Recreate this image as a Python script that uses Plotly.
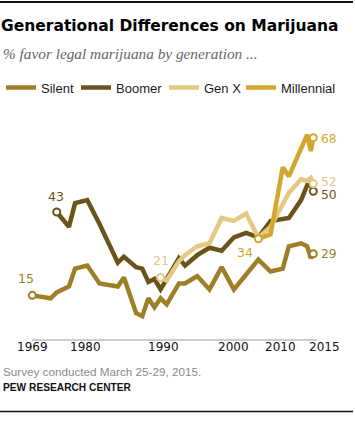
import plotly.graph_objects as go

# ---- data ----
series_names = ["Silent", "Boomer", "Gen X", "Millennial"]
series_colors = ["#9e7f28", "#6a5419", "#e3c982", "#d4a62f"]

silent_years = [1969, 1972, 1973, 1975, 1976, 1978, 1980, 1983, 1984, 1986, 1987, 1988,
                1989, 1990, 1991, 1993, 1994, 1996, 1998, 2000, 2002, 2006, 2008, 2010,
                2011, 2013, 2014, 2014.6, 2015]
silent_vals = [15, 14, 16, 18, 24, 25, 19, 18, 21, 9, 8, 14,
               11, 14, 12, 19, 19, 21.5, 17, 24.5, 17, 27, 23, 24,
               31.5, 32.5, 31.5, 27.5, 29]

boomer_years = [1973, 1975, 1976, 1978, 1980, 1983, 1984, 1986, 1987, 1988, 1989, 1990,
                1993, 1994, 1996, 1998, 2000, 2002, 2004, 2006, 2008, 2010, 2011,
                2013, 2014, 2014.6, 2015]
boomer_vals = [43, 38, 46, 47, 39, 26, 28, 24.5, 24, 19.5, 20.5, 17,
               27.5, 25, 28.5, 31, 30, 34.5, 36, 34.5, 40, 40.5, 41,
               47, 52, 52, 50]

genx_years = [1990, 1991, 1993, 1994, 1996, 1998, 2000, 2002, 2004, 2006, 2008, 2011,
              2013, 2014, 2014.6, 2015]
genx_vals = [21, 20, 26.5, 28.5, 31.5, 32.5, 41, 40, 42.5, 34.4, 38, 49.5,
             54, 53.5, 54.5, 52.5]

millennial_years = [2006, 2008, 2010, 2011, 2014, 2014.6, 2015]
millennial_vals = [34, 35.5, 58, 55, 69, 63.5, 68]

tick_labels = ["1969", "1980", "1990", "2000", "2010", "2015"]
tick_label_pos = [1969.1, 1977.7, 1990.4, 2001.9, 2009.7, 2016.9]

start_labels = ["15", "43", "21", "34"]
end_labels = ["29", "50", "52", "68"]

all_years = [silent_years, boomer_years, genx_years, millennial_years]
all_vals = [silent_vals, boomer_vals, genx_vals, millennial_vals]

# ---- layout geometry ----
W, H = 355, 433
L, R, T, B = 32, 2, 120, 93
plot_w = W - L - R
plot_h = H - T - B
AXIS_END_PX = 317
legend_left_px = [1, 76, 164, 241]

def px_x(px):
    return (px - L) / plot_w

def px_y(py):
    return (H - B - py) / plot_h

legend_ids = ["legend", "legend2", "legend3", "legend4"]

fig = go.Figure()

for name, col, xs, ys, lg in zip(series_names, series_colors, all_years, all_vals, legend_ids):
    fig.add_trace(go.Scatter(
        x=xs, y=ys, mode="lines", name=name, legend=lg,
        line=dict(color=col, width=4.5),
        cliponaxis=False, hoverinfo="skip",
    ))

# endpoint circles
for name, col, xs, ys in zip(series_names, series_colors, all_years, all_vals):
    fig.add_trace(go.Scatter(
        x=[xs[0], xs[-1]], y=[ys[0], ys[-1]], mode="markers", showlegend=False,
        marker=dict(symbol="circle", size=7, color="white", line=dict(color=col, width=2)),
        cliponaxis=False, hoverinfo="skip",
    ))

annotations = []
label_font = "DejaVu Sans"
# start labels
start_shift = [(-6, 17), (-1, 16), (0, 17), (-13, -14)]
for i, (txt, (dx, dy)) in enumerate(zip(start_labels, start_shift)):
    annotations.append(dict(
        x=all_years[i][0], y=all_vals[i][0], xref="x", yref="y", text=txt,
        showarrow=False, xanchor="center", yanchor="middle", xshift=dx, yshift=dy,
        font=dict(family=label_font, size=12.5, color=series_colors[i]),
    ))
# end labels
end_shift = [0, -4, 2, -1]
for i, (txt, dy) in enumerate(zip(end_labels, end_shift)):
    annotations.append(dict(
        x=all_years[i][-1], y=all_vals[i][-1], xref="x", yref="y", text=txt,
        showarrow=False, xanchor="left", yanchor="middle", xshift=6, yshift=dy,
        font=dict(family=label_font, size=12.3, color=series_colors[i]),
    ))
# x tick labels
for txt, pos in zip(tick_labels, tick_label_pos):
    annotations.append(dict(
        x=pos, y=0, xref="x", yref="paper", text=txt, showarrow=False,
        xanchor="center", yanchor="middle", yshift=-6.5,
        font=dict(family=label_font, size=12, color="#111111"),
    ))
# subtitle
annotations.append(dict(
    x=px_x(1), y=px_y(53), xref="paper", yref="paper", xanchor="left", yanchor="middle",
    text="<i>% favor legal marijuana by generation ...</i>", showarrow=False,
    font=dict(family="Liberation Serif", size=15.3, color="#666666"),
))
# footer
annotations.append(dict(
    x=px_x(1), y=px_y(371), xref="paper", yref="paper", xanchor="left", yanchor="middle",
    text="Survey conducted March 25-29, 2015.", showarrow=False,
    font=dict(family="Liberation Sans", size=11.7, color="#8a8a8a"),
))
annotations.append(dict(
    x=px_x(1), y=px_y(387.5), xref="paper", yref="paper", xanchor="left", yanchor="middle",
    text="<b>PEW RESEARCH CENTER</b>", showarrow=False,
    font=dict(family="Liberation Sans", size=10.2, color="#111111"),
))

shapes = [
    dict(type="line", xref="paper", yref="paper", x0=px_x(0), x1=px_x(353),
         y0=px_y(2), y1=px_y(2), line=dict(color="#111111", width=2)),
    dict(type="line", xref="paper", yref="paper", x0=px_x(0), x1=px_x(353),
         y0=px_y(411.5), y1=px_y(411.5), line=dict(color="#111111", width=1.5)),
    # x axis baseline
    dict(type="line", xref="paper", yref="paper", x0=0, x1=px_x(AXIS_END_PX),
         y0=0, y1=0, line=dict(color="#9a9a9a", width=1), layer="below"),
]

x0_year = 1969
px_per_year = (313.3 - 32.3) / (2015 - 1969)
x_start = x0_year - (32.3 - L) / px_per_year
x_end = x_start + plot_w / px_per_year
px_per_pct = 2.976

legend_layouts = {}
for lg, lpx in zip(legend_ids, legend_left_px):
    legend_layouts[lg] = dict(
        orientation="h", xref="container", yref="container", x=lpx / W, xanchor="left",
        y=1 - 87.5 / H, yanchor="middle", itemwidth=30,
        font=dict(family="Liberation Sans", size=13, color="#1a1a1a"),
        bgcolor="rgba(0,0,0,0)", borderwidth=0,
    )

fig.update_layout(
    width=W, height=H, autosize=False,
    margin=dict(l=L, r=R, t=T, b=B, pad=0),
    paper_bgcolor="white", plot_bgcolor="white",
    title=dict(text="<b>Generational Differences on Marijuana</b>", xref="container", yref="container",
               x=1 / W, xanchor="left", y=1 - 26 / H, yanchor="middle",
               font=dict(family="DejaVu Sans", size=15.5, color="#000000")),
    xaxis=dict(range=[x_start, x_end], showgrid=False, zeroline=False, showticklabels=False,
               ticks="", showline=False, fixedrange=True),
    yaxis=dict(range=[0, plot_h / px_per_pct], showgrid=False, zeroline=False, showticklabels=False,
               ticks="", showline=False, fixedrange=True),
    annotations=annotations,
    shapes=shapes,
    showlegend=True,
    **legend_layouts,
)

fig.write_html("out.html", config={"displayModeBar": False, "staticPlot": True},
               post_script="document.body.style.margin='0';document.body.style.overflow='hidden';")
